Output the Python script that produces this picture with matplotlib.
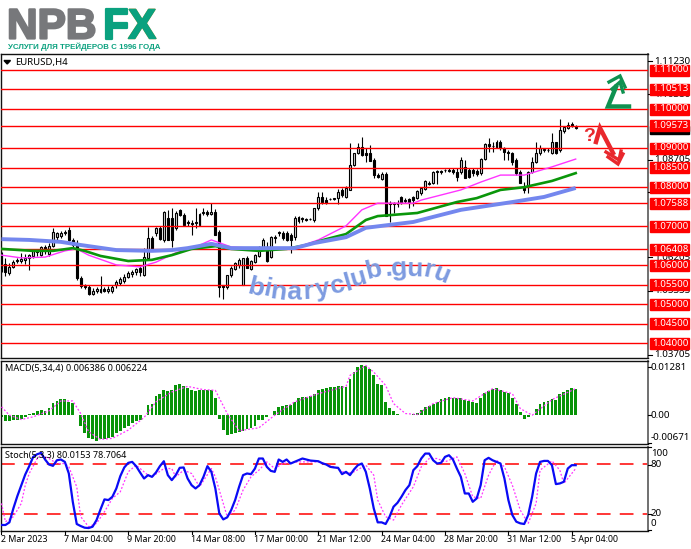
import matplotlib
matplotlib.use('Agg')
import matplotlib.pyplot as plt
import matplotlib.patheffects as pe
from matplotlib.patches import Rectangle, Polygon

plt.rcParams['font.family'] = ['Noto Sans', 'DejaVu Sans']

W, H = 691, 549
OUTPUT = 'out.png'

# --- CANDLES (EURUSD H4) ---
opens = [
    1.0624,1.0603,1.0580,1.0596,1.0611,1.0611,1.0614,1.0619,1.0624,1.0634,
    1.0626,1.0647,1.0629,1.0649,1.0672,1.0675,1.0683,1.0690,1.0665,1.0657,
    1.0567,1.0547,1.0544,1.0526,1.0534,1.0532,1.0539,1.0534,1.0534,1.0550,
    1.0555,1.0560,1.0570,1.0578,1.0583,1.0593,1.0575,1.0619,1.0670,1.0683,
    1.0696,1.0665,1.0721,1.0721,1.0696,1.0742,1.0729,1.0711,1.0708,1.0711,
    1.0703,1.0734,1.0736,1.0731,1.0736,1.0685,1.0550,1.0544,1.0575,1.0591,
    1.0601,1.0550,1.0619,1.0591,1.0608,1.0624,1.0644,1.0647,1.0621,1.0672,
    1.0685,1.0683,1.0683,1.0678,1.0672,1.0724,1.0721,1.0719,1.0719,1.0716,
    1.0747,1.0775,1.0767,1.0770,1.0770,1.0772,1.0793,1.0775,1.0793,1.0857,
    1.0888,1.0903,1.0888,1.0888,1.0870,1.0831,1.0821,1.0834,1.0759,1.0759,
    1.0757,1.0775,1.0767,1.0770,1.0775,1.0772,1.0785,1.0795,1.0808,1.0811,
    1.0839,1.0841,1.0844,1.0844,1.0844,1.0839,1.0839,1.0852,1.0844,1.0844,
    1.0841,1.0836,1.0872,1.0911,1.0905,1.0916,1.0916,1.0900,1.0890,1.0888,
    1.0870,1.0839,1.0800,1.0800,1.0839,1.0864,1.0888,1.0895,1.0895,1.0888,
    1.0916,1.0895,1.0944,1.0952,1.0962,1.0954]
highs = [
    1.0634,1.0619,1.0606,1.0614,1.0619,1.0632,1.0629,1.0629,1.0639,1.0639,
    1.0649,1.0652,1.0657,1.0696,1.0685,1.0688,1.0690,1.0698,1.0670,1.0665,
    1.0573,1.0552,1.0550,1.0542,1.0544,1.0573,1.0544,1.0547,1.0550,1.0562,
    1.0570,1.0578,1.0585,1.0588,1.0593,1.0598,1.0644,1.0698,1.0675,1.0698,
    1.0701,1.0739,1.0742,1.0747,1.0739,1.0744,1.0734,1.0716,1.0716,1.0747,
    1.0734,1.0747,1.0742,1.0759,1.0744,1.0690,1.0550,1.0575,1.0598,1.0608,
    1.0619,1.0619,1.0624,1.0614,1.0629,1.0649,1.0670,1.0660,1.0675,1.0678,
    1.0688,1.0688,1.0688,1.0683,1.0726,1.0726,1.0724,1.0721,1.0721,1.0747,
    1.0788,1.0788,1.0775,1.0772,1.0772,1.0795,1.0798,1.0803,1.0913,1.0888,
    1.0913,1.0928,1.0900,1.0908,1.0875,1.0836,1.0839,1.0839,1.0765,1.0762,
    1.0767,1.0777,1.0772,1.0772,1.0777,1.0793,1.0800,1.0818,1.0816,1.0841,
    1.0844,1.0844,1.0847,1.0849,1.0849,1.0849,1.0877,1.0870,1.0849,1.0849,
    1.0847,1.0875,1.0913,1.0926,1.0916,1.0921,1.0921,1.0903,1.0895,1.0890,
    1.0875,1.0844,1.0813,1.0841,1.0877,1.0916,1.0908,1.0900,1.0900,1.0939,
    1.0916,1.0975,1.0954,1.0967,1.0967,1.0959]
lows = [
    1.0583,1.0573,1.0575,1.0593,1.0606,1.0606,1.0603,1.0588,1.0619,1.0624,
    1.0624,1.0629,1.0624,1.0647,1.0665,1.0670,1.0678,1.0662,1.0647,1.0562,
    1.0542,1.0539,1.0524,1.0524,1.0529,1.0529,1.0532,1.0529,1.0529,1.0542,
    1.0550,1.0555,1.0567,1.0570,1.0575,1.0573,1.0573,1.0614,1.0639,1.0675,
    1.0665,1.0660,1.0665,1.0647,1.0690,1.0726,1.0701,1.0701,1.0678,1.0696,
    1.0701,1.0729,1.0726,1.0729,1.0678,1.0519,1.0514,1.0539,1.0570,1.0588,
    1.0593,1.0550,1.0593,1.0588,1.0606,1.0621,1.0642,1.0608,1.0619,1.0657,
    1.0675,1.0665,1.0662,1.0632,1.0665,1.0708,1.0711,1.0713,1.0716,1.0711,
    1.0742,1.0757,1.0757,1.0767,1.0767,1.0757,1.0775,1.0772,1.0793,1.0854,
    1.0885,1.0880,1.0864,1.0867,1.0824,1.0824,1.0818,1.0726,1.0711,1.0734,
    1.0749,1.0757,1.0759,1.0747,1.0752,1.0770,1.0780,1.0793,1.0806,1.0808,
    1.0808,1.0834,1.0839,1.0839,1.0834,1.0816,1.0834,1.0824,1.0824,1.0829,
    1.0829,1.0831,1.0870,1.0890,1.0890,1.0900,1.0895,1.0870,1.0870,1.0857,
    1.0831,1.0811,1.0785,1.0785,1.0836,1.0862,1.0882,1.0890,1.0890,1.0885,
    1.0885,1.0890,1.0939,1.0949,1.0954,1.0949]
closes = [
    1.0593,1.0583,1.0596,1.0608,1.0614,1.0616,1.0619,1.0626,1.0637,1.0637,
    1.0647,1.0637,1.0649,1.0685,1.0683,1.0683,1.0685,1.0665,1.0652,1.0567,
    1.0547,1.0544,1.0526,1.0534,1.0539,1.0539,1.0534,1.0539,1.0544,1.0557,
    1.0565,1.0570,1.0580,1.0583,1.0591,1.0583,1.0621,1.0670,1.0642,1.0696,
    1.0667,1.0736,1.0665,1.0665,1.0734,1.0729,1.0703,1.0708,1.0706,1.0708,
    1.0731,1.0736,1.0731,1.0736,1.0678,1.0544,1.0544,1.0575,1.0593,1.0606,
    1.0614,1.0619,1.0593,1.0611,1.0626,1.0647,1.0665,1.0611,1.0672,1.0670,
    1.0683,1.0670,1.0665,1.0665,1.0721,1.0713,1.0719,1.0716,1.0719,1.0747,
    1.0775,1.0762,1.0759,1.0770,1.0772,1.0788,1.0780,1.0798,1.0857,1.0888,
    1.0903,1.0882,1.0882,1.0867,1.0831,1.0826,1.0834,1.0726,1.0757,1.0757,
    1.0759,1.0759,1.0765,1.0762,1.0767,1.0790,1.0798,1.0816,1.0811,1.0839,
    1.0841,1.0839,1.0844,1.0841,1.0839,1.0826,1.0870,1.0824,1.0826,1.0836,
    1.0834,1.0872,1.0911,1.0905,1.0905,1.0903,1.0900,1.0890,1.0888,1.0864,
    1.0836,1.0811,1.0793,1.0839,1.0864,1.0888,1.0900,1.0898,1.0895,1.0916,
    1.0888,1.0946,1.0954,1.0959,1.0957,1.0952]

# --- MOVING AVERAGES (bar number, price) ---
blue_bars = [0,7,15,20,29,38,43,47,53,58,67,74,79,87,92,104,116,129,137,145]
blue_ma = [1.0667,1.0665,1.0660,1.0652,1.0639,1.0637,1.0639,1.0644,1.0655,1.0644,
           1.0644,1.0644,1.0657,1.0672,1.0696,1.0711,1.0742,1.0762,1.0775,1.0798]
green_bars = [0,8,13,18,21,25,32,38,43,48,54,58,65,72,77,82,87,92,95,105,115,120,126,132,139,145]
green_ma = [1.0642,1.0637,1.0637,1.0644,1.0637,1.0624,1.0611,1.0614,1.0626,1.0642,
            1.0649,1.0642,1.0637,1.0642,1.0652,1.0667,1.0680,1.0716,1.0726,1.0734,
            1.0762,1.0772,1.0793,1.0800,1.0816,1.0836]
pink_bars = [0,5,11,16,19,22,29,35,39,44,49,53,58,67,74,80,87,91,95,104,106,116,121,126,132,139,145]
pink_ma = [1.0626,1.0619,1.0621,1.0637,1.0642,1.0626,1.0601,1.0596,1.0608,1.0632,
           1.0647,1.0665,1.0647,1.0642,1.0644,1.0665,1.0701,1.0742,1.0759,1.0759,
           1.0767,1.0793,1.0813,1.0831,1.0831,1.0852,1.0872]

# --- PRICE LEVELS AND SCALE ---
levels = [1.11,1.10513,1.10,1.09573,1.09,1.085,1.08,1.07588,1.07,1.06408,1.06,1.055,1.05,1.045,1.04]
level_labels = ['1.11000','1.10513','1.10000','1.09573','1.09000','1.08500','1.08000','1.07588',
                '1.07000','1.06408','1.06000','1.05500','1.05000','1.04500','1.04000']
price_ticks = [1.1123,1.1038,1.08705,1.0788,1.06205,1.05355,1.03705]
price_tick_labels = ['1.11230','1.10380','1.08705','1.07880','1.06205','1.05355','1.03705']

# --- MACD ---
macd_hist = [
    -0.00050,-0.00151,-0.00160,-0.00116,-0.00116,-0.00089,-0.00044,0.00027,0.00071,0.00116,
    0.00133,0.00107,0.00196,0.00329,0.00382,0.00445,0.00436,0.00356,0.00329,0.00000,
    -0.00293,-0.00471,-0.00605,-0.00649,-0.00685,-0.00649,-0.00640,-0.00622,-0.00578,-0.00489,
    -0.00418,-0.00356,-0.00284,-0.00222,-0.00160,-0.00133,0.00009,0.00267,0.00311,0.00507,
    0.00578,0.00667,0.00649,0.00667,0.00800,0.00827,0.00773,0.00720,0.00685,0.00649,
    0.00685,0.00685,0.00685,0.00667,0.00471,-0.00089,-0.00400,-0.00533,-0.00507,-0.00471,
    -0.00445,-0.00418,-0.00382,-0.00356,-0.00293,-0.00133,-0.00116,-0.00062,0.00009,0.00116,
    0.00222,0.00240,0.00267,0.00267,0.00356,0.00471,0.00489,0.00489,0.00507,0.00578,
    0.00685,0.00711,0.00738,0.00756,0.00756,0.00773,0.00773,0.00756,0.00978,0.01156,
    0.01289,0.01334,0.01307,0.01245,0.01067,0.00845,0.00800,0.00356,0.00204,0.00107,
    0.00044,0.00018,0.00018,0.00018,0.00027,0.00071,0.00133,0.00222,0.00249,0.00293,
    0.00356,0.00445,0.00462,0.00489,0.00471,0.00462,0.00462,0.00400,0.00382,0.00356,
    0.00329,0.00471,0.00596,0.00649,0.00693,0.00729,0.00685,0.00622,0.00596,0.00471,
    0.00293,0.00089,-0.00098,-0.00044,0.00018,0.00178,0.00311,0.00356,0.00382,0.00445,
    0.00418,0.00578,0.00622,0.00685,0.00729,0.00693]
signal_bars = [0,2,5,8,12,15,18,20,22,25,28,32,36,39,43,47,51,54,57,60,65,69,74,80,87,
               88,92,94,97,99,102,105,109,114,119,124,129,131,134,139,145]
macd_signal = [0.00222,0.00000,-0.00116,-0.00044,0.00116,0.00382,0.00382,0.00044,-0.00445,-0.00649,
               -0.00622,-0.00400,-0.00062,0.00356,0.00622,0.00773,0.00685,0.00667,0.00044,-0.00418,
               -0.00338,0.00000,0.00356,0.00578,0.00773,0.01067,0.01334,0.01156,0.00800,0.00311,
               0.00044,0.00018,0.00311,0.00471,0.00382,0.00711,0.00578,0.00178,0.00000,0.00418,0.00711]

# --- STOCHASTIC ---
stoch_main = [
    6.1,6.1,9.3,26.3,41.2,54.5,67.5,77.6,88.9,92.1,
    93.7,85.7,79.6,78.0,84.8,85.7,82.8,68.7,34.3,7.3,
    4.8,2.8,2.4,4.0,12.1,25.0,37.2,36.4,40.4,50.5,
    65.5,76.0,81.6,82.8,77.6,69.9,62.6,66.7,64.6,69.9,
    77.6,83.6,66.7,60.6,66.7,75.6,76.0,62.6,54.5,50.5,
    54.5,64.6,77.6,70.7,50.5,20.2,12.9,15.4,24.2,36.4,
    52.5,66.7,68.7,67.9,74.7,86.9,86.9,76.8,71.9,70.7,
    85.7,82.8,85.7,80.8,82.8,84.8,86.9,85.7,84.4,84.0,
    83.6,81.2,79.6,76.8,76.0,75.6,67.9,70.7,66.7,73.5,
    78.8,80.8,70.7,50.5,26.3,9.3,9.3,7.3,16.2,28.3,
    33.1,40.4,48.5,54.5,72.7,77.6,86.9,92.9,92.9,84.8,
    80.8,81.6,88.9,90.9,85.7,74.7,64.6,44.4,44.4,34.3,
    38.4,54.5,84.8,87.7,84.8,82.8,80.8,62.6,36.4,18.2,
    10.1,8.1,7.3,18.2,40.4,68.7,82.8,84.0,84.0,78.8,
    55.8,56.6,58.6,74.7,78.8,78.8]
stoch_bars = [0,1,3,5,6,7,9,10,12,14,16,17,19,20,22,24,26,28,30,32,34,37,38,41,43,44,46,48,50,53,
              54,56,57,59,61,63,65,67,69,71,75,80,84,87,89,92,94,95,97,99,101,104,106,108,110,
              112,115,117,119,121,123,125,127,129,131,133,135,136,139,141,142,145]
stoch_signal = [32.3,10.1,16.2,32.3,54.5,68.7,86.9,90.9,86.9,80.8,80.8,76.8,52.5,16.2,4.0,8.1,22.2,
                38.4,46.5,70.7,78.8,66.7,64.6,74.7,74.7,64.6,72.7,68.7,52.5,74.7,64.6,32.3,16.2,
                24.2,48.5,64.6,72.7,82.8,74.7,80.8,82.8,82.8,76.8,68.7,70.7,78.8,66.7,36.4,16.2,
                12.1,30.3,52.5,76.8,86.9,86.9,82.8,88.9,68.7,40.4,38.4,66.7,84.8,76.8,54.5,24.2,
                8.1,32.3,72.7,84.0,72.7,56.6,74.7]

# --- AXIS LABELS ---
time_labels = ['2 Mar 2023','7 Mar 04:00','9 Mar 20:00','14 Mar 08:00','17 Mar 00:00',
               '21 Mar 12:00','24 Mar 04:00','28 Mar 20:00','31 Mar 12:00','5 Apr 04:00']
time_bars = [0,16,32,48,64,80,96,112,128,144]


def pane(top, bottom):
    """Axes for a chart pane given in pixel rows; columns are shared."""
    left, right = 1, 648
    ax = fig.add_axes([left / W, 1 - bottom / H, (right - left) / W, (bottom - top) / H])
    # one bar is 3.96 px, the first sits at x = 1.5 px
    ax.set_xlim((left - 1.5) / 3.96, (right - 1.5) / 3.96)
    ax.set_xticks([])
    ax.set_yticks([])
    for s in ax.spines.values():
        s.set_color('#111111')
        s.set_linewidth(1.0)
    ax.spines['right'].set_color('#707070')
    ax.spines['right'].set_linewidth(1.4)
    return ax


fig = plt.figure(figsize=(W / 100, H / 100), dpi=100, facecolor='white')
bars = list(range(len(closes)))

# ---------------------------------------------------------
# PRICE PANE
# ---------------------------------------------------------
ax = pane(54, 358)
ax.set_ylim(1.03627, 1.1141)
ax.vlines(bars, lows, highs, color='black', linewidth=0.8, zorder=2)
body_low = [min(o, c) for o, c in zip(opens, closes)]
body_height = [abs(c - o) for o, c in zip(opens, closes)]
body_color = ['black' if c < o else '#d8d8d8' for o, c in zip(opens, closes)]
ax.bar(bars, body_height, bottom=body_low, width=0.5, color=body_color,
       edgecolor='black', linewidth=0.8, zorder=3)
for lv in levels:
    ax.axhline(lv, color='#ff0000', linewidth=1.0, zorder=4)
ax.plot(pink_bars, pink_ma, color='#ff33ff', linewidth=1.0, zorder=5)
ax.plot(green_bars, green_ma, color='#0a960a', linewidth=1.9, zorder=6)
ax.plot(blue_bars, blue_ma, color='#7487ee', linewidth=2.8, zorder=7, solid_capstyle='butt')

# ---------------------------------------------------------
# MACD PANE
# ---------------------------------------------------------
ax_macd = pane(360.5, 444)
ax_macd.set_ylim(-0.00773, 0.01467)
ax_macd.bar(bars, macd_hist, width=0.72, color='#089408', zorder=2)
ax_macd.plot(signal_bars, macd_signal, color='#ff33ff', linewidth=0.9, linestyle=(0, (1.5, 1.5)), zorder=3)

# ---------------------------------------------------------
# STOCHASTIC PANE
# ---------------------------------------------------------
ax_st = pane(446.5, 530.5)
ax_st.set_ylim(-0.6, 101.5)
for lv in [80, 20]:
    ax_st.axhline(lv, color='#ff0000', linewidth=1.1, linestyle=(0, (9, 6)), zorder=2)
ax_st.plot(stoch_bars, stoch_signal, color='#ff33ff', linewidth=0.9, linestyle=(0, (1.5, 1.5)), zorder=3)
ax_st.plot(bars, stoch_main, color='#0a0af5', linewidth=1.6, zorder=4)

# ---------------------------------------------------------
# OVERLAY IN PIXEL COORDINATES (labels, logo, arrows, watermark)
# ---------------------------------------------------------
ov = fig.add_axes([0, 0, 1, 1], zorder=10)
ov.set_xlim(0, W)
ov.set_ylim(H, 0)
ov.axis('off')
ov.patch.set_alpha(0)

def price_y(p):
    return 70 + (1.11 - p) / 0.000256

# plain price scale first, the red boxes go over it
for p, lab in zip(price_ticks, price_tick_labels):
    y = price_y(p)
    ov.plot([648, 652], [y, y], color='black', lw=0.8)
    ov.text(654, y, lab, fontsize=7, va='center', ha='left', color='black')

# current price marker hidden behind the red label
ov.add_patch(Rectangle((650, 126), 39, 8, color='black', zorder=2))
for lv, lab in zip(levels, level_labels):
    y = price_y(lv)
    ov.add_patch(Rectangle((650, y - 5.5), 39.5, 11, color='#ff0000', zorder=3))
    ov.text(670, y - 0.2, lab, fontsize=7, va='center', ha='center', color='white', zorder=4)

for lab, y in [('0.01281', 367), ('0.00', 415), ('-0.00671', 438)]:
    ov.text(651, y, lab, fontsize=7, va='center', ha='left', color='black')
for y in [367, 415, 443]:
    ov.plot([648, 651], [y, y], color='black', lw=0.8)
for lab, y in [('100', 453), ('80', 464.5), ('20', 514), ('0', 524)]:
    ov.text(651, y, lab, fontsize=7, va='center', ha='left', color='black')
for y in [447, 464.5, 514, 530]:
    ov.plot([648, 651], [y, y], color='black', lw=0.8)

for b, lab in zip(time_bars, time_labels):
    x = 1.5 + 3.96 * b
    ov.plot([x, x], [530.5, 534], color='black', lw=0.8)
    ov.text(max(x - 1, 1), 539.5, lab, fontsize=6.4, va='center', ha='left', color='black')

ov.text(5, 369, 'MACD(5,34,4) 0.006386 0.006224', fontsize=6.6, va='center', color='black')
ov.text(5, 455.5, 'Stoch(5,3,3) 80.0153 78.7064', fontsize=6.5, va='center', color='black', zorder=0)
ov.add_patch(Polygon([[4, 60.5], [10.5, 60.5], [7.2, 64]], color='black'))
ov.text(15.5, 62.5, 'EURUSD,H4', fontsize=6.9, va='center', color='black')

# logo
logo_grey, logo_green, logo_orange = '#77787b', '#0aa17f', '#f58a1f'
ov.text(7, 38.5, 'NPB', fontsize=30.5, fontweight='bold', family='Liberation Sans', color=logo_grey,
        va='baseline', ha='left', path_effects=[pe.withStroke(linewidth=1.6, foreground=logo_grey)])
ov.text(103, 38.5, 'F', fontsize=30.5, fontweight='bold', family='Liberation Sans', color=logo_green,
        va='baseline', ha='left', path_effects=[pe.withStroke(linewidth=1.6, foreground=logo_green)])
ov.text(128, 38.5, 'X', fontsize=30.5, fontweight='bold', family='Liberation Sans', color=logo_orange,
        va='baseline', ha='left', path_effects=[pe.withStroke(linewidth=1.0, foreground=logo_orange)])
# left half of the X is green
x_left = ov.text(128, 38.5, 'X', fontsize=30.5, fontweight='bold', family='Liberation Sans', color=logo_green,
                 va='baseline', ha='left', path_effects=[pe.withStroke(linewidth=1.0, foreground=logo_green)])
x_left.set_clip_path(Rectangle((120, 0), 22.5, 50, transform=ov.transData))
ov.text(8, 47, 'УСЛУГИ ДЛЯ ТРЕЙДЕРОВ С 1996 ГОДА', fontsize=5.7, fontweight='bold',
        family='Liberation Sans', color=logo_green, va='center', ha='left')

# green arrow
arrow_green = '#0f9150'
ov.plot([629, 608, 616], [106.5, 106.5, 87], color=arrow_green, lw=3.2, solid_joinstyle='miter')
ov.plot([609, 620, 625], [82, 76, 87], color=arrow_green, lw=2.4, solid_joinstyle='miter')
ov.plot([612, 620, 623], [89, 82, 92], color=arrow_green, lw=2.4, solid_joinstyle='miter')

# red arrow and question mark
arrow_red = '#e8282d'
ov.plot([596, 600, 613], [142, 128, 153], color=arrow_red, lw=3.2, solid_joinstyle='miter')
ov.plot([606, 619, 621], [152, 160, 151], color=arrow_red, lw=2.4, solid_joinstyle='miter')
ov.plot([608, 618, 623], [157, 164, 154], color=arrow_red, lw=2.4, solid_joinstyle='miter')
ov.text(589.5, 136.5, '?', fontsize=14, fontweight='bold', color=arrow_red, va='center', ha='center',
        family='Liberation Sans')

# watermark letters follow an arc
mark_text = 'binaryclub.guru'
mark_x = [246, 262, 269, 286, 303, 316, 332, 346, 352, 367, 385, 392, 406, 422, 431]
mark_y = [293, 295, 298, 299, 299, 297, 294, 291, 287, 279, 276, 276, 276, 276, 278]
mark_rot = [-14, -12, -8, -3, 2, 8, 12, 16, 16, 14, 6, 4, -2, -12, -22]
for ch, x, y, r in zip(mark_text, mark_x, mark_y, mark_rot):
    ov.text(x, y, ch, fontsize=19, fontweight='bold', family='Liberation Sans', color='#7d9be0',
            rotation=r, rotation_mode='anchor', va='baseline', ha='left', zorder=8)

fig.savefig(OUTPUT, dpi=100)
